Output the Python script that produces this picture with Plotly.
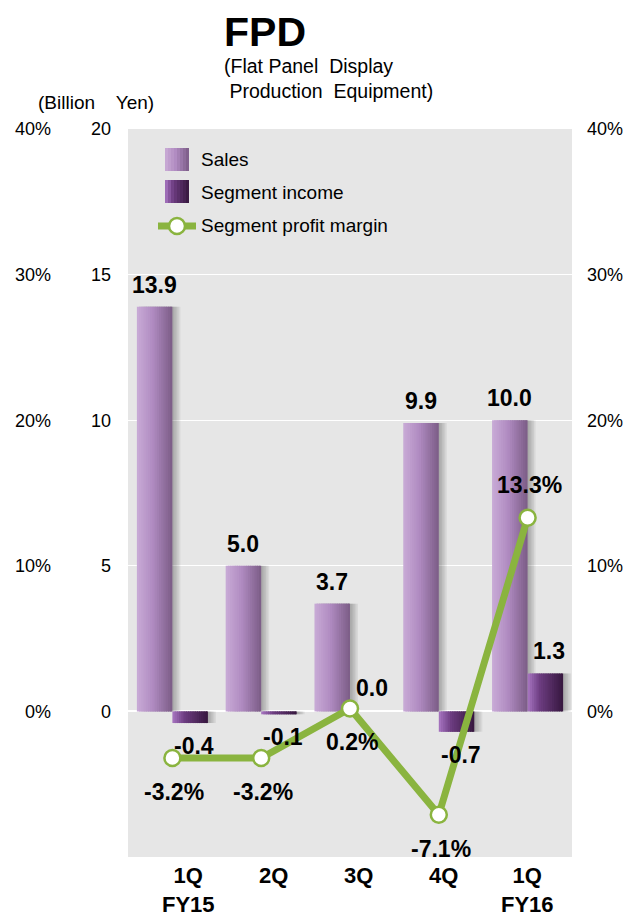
import plotly.graph_objects as go

# ---- data ----
quarters = ["1Q<br>FY15", "2Q", "3Q", "4Q", "1Q<br>FY16"]
sales = [13.9, 5.0, 3.7, 9.9, 10.0]
segment_income = [-0.4, -0.1, 0.0, -0.7, 1.3]
profit_margin = [-3.2, -3.2, 0.2, -7.1, 13.3]

yen_ticks = [0, 5, 10, 15, 20]
pct_ticks = [0, 10, 20, 30, 40]
pct_labels = [f"{v}%" for v in pct_ticks]

# ---- styling ----
FONT = "Liberation Sans, Arial, sans-serif"
GREEN = "#8ab43f"
PLOT_BG = "#e6e6e6"
W, H = 627, 917
PLOT_L, PLOT_R, PLOT_T, PLOT_B = 128, 572, 129, 857

SALES_STOPS = [(0.0, (0xc9, 0xab, 0xd6)), (0.45, (0xb0, 0x8b, 0xc1)), (1.0, (0x7b, 0x5c, 0x86))]
INCOME_STOPS = [(0.0, (0xa8, 0x76, 0xc2)), (0.35, (0x6c, 0x3c, 0x80)), (1.0, (0x36, 0x17, 0x3e))]


def grad_color(stops, t):
    for (t0, c0), (t1, c1) in zip(stops[:-1], stops[1:]):
        if t0 <= t <= t1:
            f = (t - t0) / (t1 - t0) if t1 > t0 else 0
            r, g, b = (round(a + (bb - a) * f) for a, bb in zip(c0, c1))
            return f"rgb({r},{g},{b})"
    r, g, b = stops[-1][1]
    return f"rgb({r},{g},{b})"


def px_x(p):
    return p / W


def px_y(p):
    return (PLOT_B - p) / (PLOT_B - PLOT_T)


xpos = list(range(len(quarters)))
BAR_W = 0.4
N_STRIPS = 16
UNIT_PX = (PLOT_R - PLOT_L) / len(quarters)

fig = go.Figure()


def add_gradient_bars(values, start_offset, stops):
    # soft drop shadow on the right of each bar
    for k in range(5, 0, -1):
        fig.add_trace(go.Bar(
            x=xpos, y=values, width=[BAR_W] * len(xpos),
            offset=start_offset + k * 1.6 / UNIT_PX,
            marker=dict(color="rgba(40,40,40,0.07)", line=dict(width=0)),
            showlegend=False, hoverinfo="skip",
        ))
    sw = BAR_W / N_STRIPS
    for k in range(N_STRIPS):
        last = k == N_STRIPS - 1
        fig.add_trace(go.Bar(
            x=xpos, y=values, width=[sw * (1.0 if last else 1.6)] * len(xpos),
            offset=start_offset + k * sw,
            marker=dict(color=grad_color(stops, (k + 0.5) / N_STRIPS), line=dict(width=0)),
            showlegend=False, hoverinfo="skip",
        ))


add_gradient_bars(sales, -BAR_W, SALES_STOPS)
add_gradient_bars(segment_income, 0.0, INCOME_STOPS)

# profit margin line on the percent axis
fig.add_trace(go.Scatter(
    x=xpos, y=profit_margin, yaxis="y2", mode="lines+markers",
    line=dict(color=GREEN, width=7),
    marker=dict(size=16, color="white", line=dict(color=GREEN, width=2.5)),
    showlegend=False, hoverinfo="skip", cliponaxis=False,
))

annotations = []
LABEL_FONT = dict(family=FONT, size=23, color="black")

# value labels
for i, v in enumerate(sales):
    annotations.append(dict(x=i - BAR_W / 2, y=v, xref="x", yref="y", text=f"<b>{v:.1f}</b>",
                            showarrow=False, font=LABEL_FONT, yanchor="middle", yshift=22))
for i, v in enumerate(segment_income):
    annotations.append(dict(x=i + BAR_W / 2, y=v, xref="x", yref="y", text=f"<b>{v:.1f}</b>",
                            showarrow=False, font=LABEL_FONT, yanchor="middle", xshift=4,
                            yshift=23 if v >= 0 else -23))
for i, v in enumerate(profit_margin):
    annotations.append(dict(x=i, y=v, xref="x", yref="y2", text=f"<b>{v:.1f}%</b>",
                            showarrow=False, font=LABEL_FONT, yanchor="middle", xshift=2,
                            yshift=33 if v > 5 else -34))

# category labels
cat_shift = [16, 12, 8, 5, 0]
for i, q in enumerate(quarters):
    annotations.append(dict(x=i, y=0, xref="x", yref="paper", text=f"<b>{q}</b>",
                            showarrow=False, font=dict(family=FONT, size=22, color="black"),
                            yanchor="top", yshift=-5, xshift=cat_shift[i], borderpad=0))

# titles
annotations += [
    dict(x=px_x(265), y=px_y(32), xref="paper", yref="paper", text="<b>FPD</b>",
         showarrow=False, font=dict(family=FONT, size=41, color="black"),
         xanchor="center", yanchor="middle"),
    dict(x=px_x(222), y=px_y(78), xref="paper", yref="paper",
         text="(Flat Panel&nbsp; Display<br>&nbsp;Production&nbsp; Equipment)", align="left",
         showarrow=False, font=dict(family=FONT, size=19.5, color="black"),
         xanchor="left", yanchor="middle"),
    dict(x=px_x(36), y=px_y(103), xref="paper", yref="paper", text="(Billion&nbsp;&nbsp;&nbsp; Yen)",
         showarrow=False, font=dict(family=FONT, size=19, color="black"),
         xanchor="left", yanchor="middle"),
]

# legend drawn inside the plot area
shapes = []
LEG_FONT = dict(family=FONT, size=19, color="black")


def legend_swatch(x0, x1, y0, y1, stops, n=8):
    step = (x1 - x0) / n
    for k in range(n):
        right = x1 if k == n - 1 else x0 + (k + 1) * step + 2
        shapes.append(dict(type="rect", xref="paper", yref="paper",
                           x0=px_x(x0 + k * step), x1=px_x(right),
                           y0=px_y(y1), y1=px_y(y0),
                           fillcolor=grad_color(stops, (k + 0.5) / n), line=dict(width=0)))


legend_swatch(165, 189, 148, 171, SALES_STOPS)
legend_swatch(165, 189, 180, 203, INCOME_STOPS)
shapes.append(dict(type="line", xref="paper", yref="paper",
                   x0=px_x(158), x1=px_x(196), y0=px_y(226), y1=px_y(226),
                   line=dict(color=GREEN, width=7)))
shapes.append(dict(type="circle", xref="paper", yref="paper",
                   x0=px_x(169), x1=px_x(185), y0=px_y(234), y1=px_y(218),
                   fillcolor="white", line=dict(color=GREEN, width=2.5)))
for label, yc in [("Sales", 160), ("Segment income", 192), ("Segment profit margin", 226)]:
    annotations.append(dict(x=px_x(199), y=px_y(yc), xref="paper", yref="paper", text=label,
                            showarrow=False, font=LEG_FONT, xanchor="left", yanchor="middle"))

TICK_FONT = dict(family=FONT, size=18, color="black")

fig.update_layout(
    width=W, height=H,
    margin=dict(l=0, r=0, t=PLOT_T, b=H - PLOT_B),
    paper_bgcolor="white", plot_bgcolor=PLOT_BG,
    barmode="overlay", showlegend=False,
    xaxis=dict(domain=[PLOT_L / W, PLOT_R / W], range=[-0.5, 4.5],
               showticklabels=False, showgrid=False, zeroline=False, fixedrange=True),
    yaxis=dict(range=[-5, 20], tickvals=yen_ticks, ticktext=[str(v) for v in yen_ticks],
               tickfont=TICK_FONT, showgrid=True, gridcolor="white", gridwidth=1.2,
               zeroline=True, zerolinecolor="white", zerolinewidth=1.5,
               ticks="", ticklabelstandoff=16, showline=False),
    yaxis2=dict(range=[-10, 40], tickvals=pct_ticks, ticktext=pct_labels, overlaying="y",
                side="right", anchor="x", tickfont=TICK_FONT, showgrid=False,
                zeroline=False, ticks="", ticklabelstandoff=14),
    yaxis3=dict(range=[-10, 40], tickvals=pct_ticks, ticktext=pct_labels, overlaying="y",
                side="left", anchor="free", position=px_x(51), tickfont=TICK_FONT,
                showgrid=False, zeroline=False, ticks="", showline=False),
    annotations=annotations,
    shapes=shapes,
)

# dummy trace so the third axis is rendered
fig.add_trace(go.Scatter(x=[None], y=[None], yaxis="y3", showlegend=False, hoverinfo="skip"))

fig.write_html("out.html")
